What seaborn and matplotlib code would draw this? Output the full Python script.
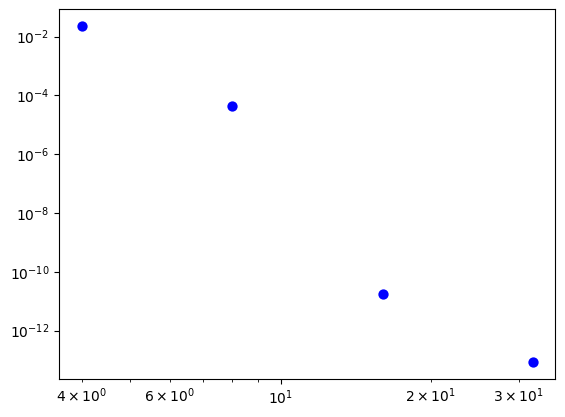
import matplotlib
matplotlib.use("Agg")
import matplotlib.pyplot as plt
import seaborn as sns
import numpy as np

# grid sizes and errors
n_values = [4, 8, 16, 32]
errors = [2.3e-2, 4.3e-5, 1.8e-11, 8.7e-14]


def plot_errors():
    fig = plt.figure(figsize=(5.65, 4.17), dpi=100)
    ax = fig.add_axes([0.105, 0.092, 0.878, 0.886])
    sns.scatterplot(x=n_values, y=errors, ax=ax, color="blue",
                    s=55, linewidth=0, zorder=3)
    ax.set_xscale("log")
    ax.set_yscale("log")
    fig.savefig("out.png", dpi=100)


if __name__ == "__main__":
    plot_errors()
